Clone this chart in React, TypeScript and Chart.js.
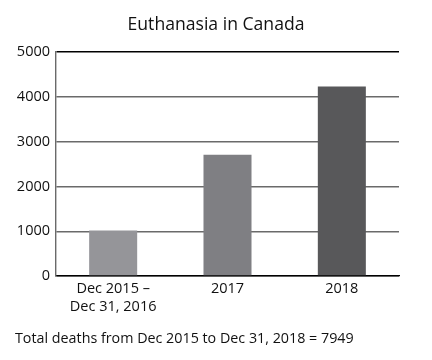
import React, { useEffect, useRef } from "react";
import { Chart, registerables } from "chart.js";

Chart.register(...registerables);

const categories: (string | string[])[] = [["Dec 2015 –", "Dec 31, 2016"], "2017", "2018"];
const deaths = [1015, 2704, 4230];
const barColors = ["#959599", "#7f7f83", "#58585a"];
const yTicks = [0, 1000, 2000, 3000, 4000, 5000];
const titleText = "Euthanasia in Canada";
const footerText = "Total deaths from Dec 2015 to Dec 31, 2018 = 7949";

const FONT = "'Open Sans', 'Noto Sans', sans-serif";

export default function App() {
  const ref = useRef<HTMLCanvasElement | null>(null);

  useEffect(() => {
    document.body.style.margin = "0";
    const canvas = ref.current;
    if (!canvas) return;

    const textPlugin = {
      id: "titleAndFooter",
      afterDraw(chart: any) {
        const ctx = chart.ctx;
        ctx.save();
        ctx.fillStyle = "#111";
        ctx.textBaseline = "middle";
        ctx.font = `17.6px ${FONT}`;
        ctx.textAlign = "center";
        ctx.fillText(titleText, chart.width / 2, 25);
        ctx.font = `14.3px ${FONT}`;
        ctx.textAlign = "left";
        ctx.fillText(footerText, 15, 339);
        ctx.restore();
      },
    };

    const chart = new Chart(canvas, {
      type: "bar",
      data: {
        labels: categories as any,
        datasets: [
          {
            data: deaths,
            backgroundColor: barColors,
            borderWidth: 0,
            categoryPercentage: 1,
            barPercentage: 0.42,
          },
        ],
      },
      options: {
        responsive: false,
        animation: false,
        layout: { padding: { left: 0, right: 33, top: 52, bottom: 40 } },
        plugins: {
          legend: { display: false },
          tooltip: { enabled: false },
          title: { display: false },
        },
        scales: {
          x: {
            grid: { display: false, drawTicks: false },
            border: { display: true, color: "#000", width: 1.3 },
            ticks: {
              color: "#111",
              font: { family: FONT, size: 14.5, lineHeight: 1.3 },
              padding: 3,
              maxRotation: 0,
            },
            afterFit(scale: any) {
              scale.height = 44;
            },
          },
          y: {
            min: 0,
            max: 5000,
            afterBuildTicks(scale: any) {
              scale.ticks = yTicks.map((v) => ({ value: v }));
            },
            grid: {
              drawTicks: false,
              color: (ctx: any) =>
                ctx.tick && (ctx.tick.value === 5000 || ctx.tick.value === 0) ? "#000" : "#6a6a6a",
              lineWidth: 1.4,
            },
            border: { display: true, color: "#6a6a6a", width: 1.4 },
            ticks: {
              color: "#111",
              font: { family: FONT, size: 14.5 },
              padding: 6,
              callback: (v: any) => String(v),
            },
            afterFit(scale: any) {
              scale.width = 56;
            },
          },
        },
      },
      plugins: [textPlugin],
    });

    return () => chart.destroy();
  }, []);

  return (
    <div style={{ width: 432, height: 360, background: "#fff" }}>
      <canvas ref={ref} width={432} height={360} />
    </div>
  );
}
